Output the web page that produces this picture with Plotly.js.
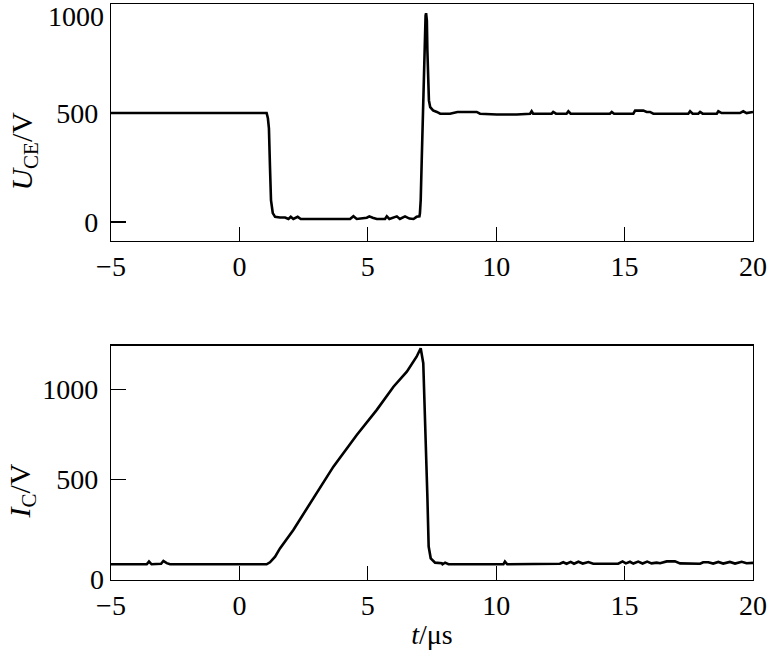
<!DOCTYPE html>
<html>
<head>
<meta charset="utf-8">
<script src="https://cdn.plot.ly/plotly-3.0.1.min.js"></script>
<style>html,body{margin:0;padding:0;background:#fff;}#chart{width:772px;height:654px;}</style>
</head>
<body>
<div id="chart"></div>
<script>
// ---- data (time in µs) ----
const uceTime = [-5, 1.06, 1.11, 1.15, 1.19, 1.23, 1.30, 1.39, 1.58, 1.78, 1.91, 2.00, 2.10, 2.27, 2.39, 3.01, 3.66, 4.31, 4.44, 4.57, 4.96, 5.06, 5.19, 5.35, 5.67, 5.74, 5.84, 6.13, 6.25, 6.45, 6.62, 6.78, 6.90, 7.01, 7.03, 7.06, 7.10, 7.14, 7.18, 7.22, 7.25, 7.27, 7.30, 7.32, 7.35, 7.38, 7.43, 7.54, 7.69, 7.82, 8.20, 8.49, 8.72, 9.24, 9.37, 10.02, 10.80, 11.19, 11.32, 11.38, 11.44, 12.16, 12.22, 12.33, 12.74, 12.81, 12.90, 14.43, 14.50, 14.59, 15.34, 15.41, 15.73, 15.86, 15.99, 16.12, 17.48, 17.55, 17.65, 17.87, 17.94, 18.04, 18.59, 18.65, 18.78, 19.49, 19.62, 19.75, 19.95, 20];
const uceVals = [500, 500, 476, 430, 256, 100, 41, 24, 21, 21, 14, 24, 14, 24, 14, 14, 14, 14, 27, 14, 20, 26, 20, 14, 14, 26, 14, 26, 14, 26, 16, 14, 24, 26, 40, 100, 284, 482, 680, 863, 947, 958, 924, 787, 635, 558, 527, 512, 505, 497, 497, 505, 505, 505, 497, 493, 493, 497, 497, 508, 497, 497, 505, 497, 497, 508, 497, 497, 505, 497, 497, 511, 511, 505, 505, 497, 497, 508, 497, 497, 505, 497, 497, 508, 500, 500, 508, 500, 505, 505];

const icTime = [-5, -3.61, -3.52, -3.42, -3.05, -2.96, -2.83, -2.70, 1.06, 1.19, 1.39, 1.58, 2.10, 2.75, 3.66, 4.57, 5.35, 6.00, 6.52, 6.90, 7.06, 7.16, 7.25, 7.32, 7.37, 7.45, 7.62, 7.88, 7.91, 8.01, 8.14, 10.28, 10.34, 10.43, 12.48, 12.61, 12.74, 12.90, 13.03, 13.20, 13.37, 13.59, 13.78, 14.75, 14.92, 15.05, 15.21, 15.34, 15.53, 15.70, 15.88, 16.05, 16.25, 16.38, 16.64, 16.96, 17.16, 17.94, 18.06, 18.26, 18.45, 18.65, 18.84, 19.10, 19.30, 19.56, 19.75, 20];
const icVals = [32, 32, 47, 32, 35, 50, 38, 32, 32, 43, 74, 120, 222, 369, 572, 747, 886, 1014, 1097, 1180, 1227, 1144, 775, 406, 130, 65, 41, 38, 32, 41, 32, 32, 47, 32, 35, 43, 35, 45, 35, 46, 36, 44, 35, 35, 48, 37, 46, 36, 47, 36, 47, 37, 41, 38, 48, 48, 37, 35, 43, 43, 36, 45, 36, 45, 36, 46, 38, 40];

const xTickVals = [-5, 0, 5, 10, 15, 20];
const xTickText = ['−5', '0', '5', '10', '15', '20'];
// top panel: 0 and 500 on the main axis, 1000 on an overlay axis (label set lower, as in the source)
const uceTickVals = [0, 500];
const uceTickText = ['0', '500'];
const uceTopTickVals = [1000];
const uceTopTickText = ['1000'];
// bottom panel: 500 and 1000 on the main axis, 0 on an overlay axis (label set lower)
const icTickVals = [500, 1000];
const icTickText = ['500', '1000'];
const icZeroTickVals = [0];
const icZeroTickText = ['0'];

const uceRange = [-87, 1000];
const icRange = [-55, 1241];

const FONT = 'Liberation Serif, Times New Roman, serif';
const tickFont = {family: FONT, size: 28, color: '#000'};

const lineStyle = {color: '#000', width: 2.6};

const traces = [
  {x: uceTime, y: uceVals, xaxis: 'x', yaxis: 'y', mode: 'lines', line: lineStyle, hoverinfo: 'skip'},
  {x: icTime, y: icVals, xaxis: 'x2', yaxis: 'y2', mode: 'lines', line: lineStyle, hoverinfo: 'skip'},
  {x: [null], y: [null], xaxis: 'x', yaxis: 'y3', mode: 'lines', hoverinfo: 'skip'},
  {x: [null], y: [null], xaxis: 'x2', yaxis: 'y4', mode: 'lines', hoverinfo: 'skip'}
];

const xBase = {
  range: [-5, 20], tickmode: 'array', tickvals: xTickVals, ticktext: xTickText,
  ticks: 'inside', ticklen: 14, tickwidth: 1.2, tickcolor: '#000',
  showline: true, linecolor: '#000', linewidth: 1.2, mirror: true,
  showgrid: false, zeroline: false, tickfont: tickFont, ticklabelstandoff: 0,
  ticklabeloverflow: 'allow'
};
const yBase = {
  tickmode: 'array', ticks: 'inside', ticklen: 15, tickwidth: 1.2, tickcolor: '#000',
  showline: true, linecolor: '#000', linewidth: 1.2, mirror: true,
  showgrid: false, zeroline: false, tickfont: tickFont, ticklabelstandoff: 6,
  ticklabeloverflow: 'allow'
};

const layout = {
  width: 772, height: 654,
  margin: {l: 111, r: 19, t: 4, b: 74},
  paper_bgcolor: '#fff', plot_bgcolor: '#fff',
  showlegend: false,
  font: {family: FONT, color: '#000'},
  xaxis: Object.assign({}, xBase, {anchor: 'y', domain: [0, 1]}),
  yaxis: Object.assign({}, yBase, {anchor: 'x', domain: [0.5885, 1], range: uceRange, tickvals: uceTickVals, ticktext: uceTickText}),
  yaxis3: Object.assign({}, yBase, {overlaying: 'y', anchor: 'x', range: uceRange, tickvals: uceTopTickVals, ticktext: uceTopTickText, ticks: '', showline: false, ticklabelshift: 12}),
  xaxis2: Object.assign({}, xBase, {anchor: 'y2', domain: [0, 1],
    title: {text: '<i>t</i>/μs', font: {family: FONT, size: 28, color: '#000'}, standoff: 4}}),
  yaxis2: Object.assign({}, yBase, {anchor: 'x2', domain: [0, 0.4068], range: icRange, tickvals: icTickVals, ticktext: icTickText}),
  yaxis4: Object.assign({}, yBase, {overlaying: 'y2', anchor: 'x2', range: icRange, tickvals: icZeroTickVals, ticktext: icZeroTickText, ticks: '', showline: false, ticklabelshift: 9}),
  annotations: [
    {text: '<i>U</i><sub>CE</sub>/V', textangle: -90, xref: 'paper', yref: 'paper', x: -0.136, y: 0.745,
     xanchor: 'center', yanchor: 'middle', showarrow: false, font: {family: FONT, size: 30, color: '#000'}},
    {text: '<i>I</i><sub>C</sub>/V', textangle: -90, xref: 'paper', yref: 'paper', x: -0.139, y: 0.155,
     xanchor: 'center', yanchor: 'middle', showarrow: false, font: {family: FONT, size: 30, color: '#000'}}
  ]
};

Plotly.newPlot('chart', traces, layout, {staticPlot: true, displayModeBar: false});
</script>
</body>
</html>
